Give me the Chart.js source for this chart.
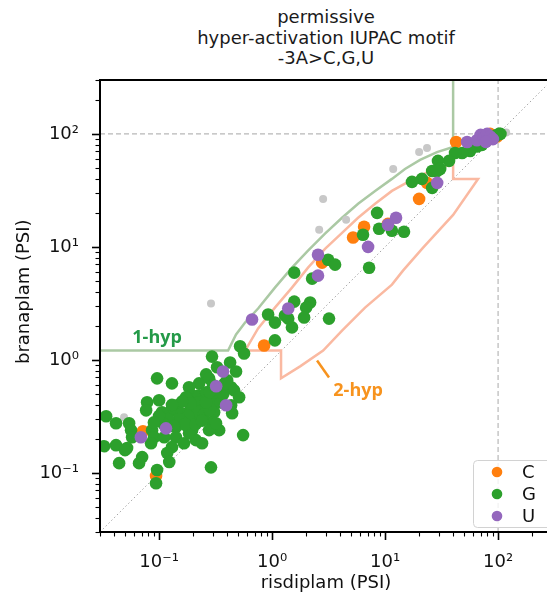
<!DOCTYPE html>
<html>
<head>
<meta charset="utf-8">
<script src="https://cdn.jsdelivr.net/npm/chart.js@4.4.0/dist/chart.umd.min.js"></script>
<style>
    html, body { margin: 0; padding: 0; background: #fff; overflow: hidden; }
    #frame { position: relative; width: 547px; height: 594px; overflow: hidden; }
    #title {
        position: absolute; left: 0; top: 7px; width: 652px; text-align: center;
        font: 18px "DejaVu Sans"; line-height: 20.5px; color: #1a1a1a;
    }
    canvas { position: absolute; left: 0; top: 0; }
</style>
</head>
<body>
<div id="frame">
    <div id="title">permissive<br>hyper-activation IUPAC motif<br>-3A&gt;C,G,U</div>
    <canvas id="chart" width="600" height="594"></canvas>
</div>
<script>
// not significant (grey)
const greyX = [2.83, 2.61, 4.52, 11.8, 20, 23.5, 118, 0.288, 0.049];
const greyY = [26.6, 14.2, 17.4, 49, 69, 75, 103, 3.15, 0.311];

// C
const cX = [42.5, 20, 6.52, 5.21, 10.6, 23.5, 2.77, 0.85, 0.072, 0.094, 98, 85];
const cY = [84.8, 26.6, 15.1, 12.1, 16, 36.9, 7.26, 1.34, 0.234, 0.094, 95, 100];

// G
const gX = [102, 94, 81.6, 65.2, 56.5, 48, 41.6, 36.8, 29.4, 30.7, 26.1, 28.8, 21.2, 17.3, 26.1,
    8.5, 8.85, 11.5, 14.7, 6.38, 7.22, 3.13, 3.61, 1.57, 2.26, 1.57, 2.17, 2.0, 1.92, 1.30, 1.39,
    0.922, 1.06, 1.50, 3.19, 1.06, 0.521, 0.565, 0.425, 105, 96, 72,
    0.294, 0.326, 0.48, 0.261, 0.096, 0.130, 0.226, 0.277, 0.40, 0.434, 0.461, 0.511, 0.184, 0.196,
    0.226, 0.261, 0.173, 0.0783, 0.1, 0.144, 0.128, 0.0768, 0.106, 0.16, 0.192, 0.226, 0.277, 0.34,
    0.261, 0.307, 0.24, 0.294, 0.34, 0.443, 0.434, 0.034, 0.0416, 0.0543, 0.0565, 0.0577, 0.0867,
    0.0903, 0.0849, 0.111, 0.141, 0.173, 0.141, 0.166, 0.130, 0.196, 0.212, 0.184, 0.24, 0.277,
    0.319, 0.118, 0.123, 0.0708, 0.0665, 0.0443, 0.0521, 0.0416, 0.0326, 0.554, 0.288, 0.096, 0.094,
    0.177, 0.05,
    0.2, 0.22, 0.18, 0.25, 0.15, 0.17, 0.21, 0.24, 0.19, 0.16, 0.13, 0.12, 0.135, 0.11, 0.1, 0.09,
    0.28, 0.3, 0.26, 0.35, 0.37, 0.32, 0.28, 0.3, 0.38];
const gY = [100, 94.8, 89.2, 77.3, 70.6, 67.8, 67.8, 57.7, 57.7, 49, 47, 47, 40, 37.6, 33.3,
    20, 14.5, 13.9, 13.6, 12.8, 6.55, 7.71, 6.97, 5.92, 5.24, 3.28, 3.22, 2.9, 2.37, 2.47, 2.32,
    2.52, 2.14, 1.94, 2.32, 1.49, 1.32, 1.14, 0.95, 100, 97, 80,
    1.07, 0.86, 0.79, 0.745, 0.687, 0.62, 0.62, 0.687, 0.66, 0.572, 0.538, 0.467, 0.572, 0.486,
    0.486, 0.516, 0.467, 0.422, 0.44, 0.397, 0.358, 0.358, 0.344, 0.337, 0.381, 0.422, 0.44, 0.467,
    0.358, 0.344, 0.311, 0.281, 0.239, 0.337, 0.397, 0.317, 0.275, 0.275, 0.239, 0.207, 0.239,
    0.207, 0.183, 0.207, 0.254, 0.264, 0.207, 0.183, 0.169, 0.239, 0.195, 0.224, 0.183, 0.239,
    0.275, 0.150, 0.125, 0.138, 0.122, 0.122, 0.166, 0.176, 0.172, 0.216, 0.112, 0.106, 0.081,
    0.292, 0.159,
    0.3, 0.35, 0.32, 0.33, 0.3, 0.27, 0.27, 0.29, 0.41, 0.43, 0.4, 0.3, 0.26, 0.27, 0.32, 0.28,
    0.36, 0.4, 0.42, 0.42, 0.5, 0.55, 0.52, 0.6, 0.62];

// U
const uX = [53.2, 28.9, 12.5, 10.6, 7.07, 2.55, 2.55, 1.39, 0.665, 0.368, 0.32, 0.392, 0.115, 0.069,
    65, 70, 75, 80, 85, 90, 78];
const uY = [84.8, 36.9, 18.1, 15.7, 10, 8.53, 5.57, 2.85, 2.28, 0.79, 0.584, 0.397, 0.248, 0.207,
    88, 98, 92, 100, 95, 90, 85];

// 1-hyp boundary
const hyp1X = [0.03, 0.408, 0.48, 0.577, 0.752, 1.06, 1.50, 2.08, 2.94, 4.16, 5.77, 8.16, 11.5, 15.0, 20.4, 28.8, 40, 40];
const hyp1Y = [1.21, 1.21, 1.68, 2.14, 2.85, 4.36, 6.55, 9.25, 13.1, 18.1, 24.1, 31.3, 40, 49, 58.9, 69, 76.5, 300];

// 2-hyp boundary (closed)
const hyp2X = [0.577, 0.752, 1.06, 1.50, 2.08, 2.94, 4.16, 5.77, 8.16, 11.5, 16.6, 25, 40, 40, 66.5,
    40, 21.7, 14.4, 11.5, 6.65, 4.16, 2.83, 1.77, 1.2, 1.2, 0.577];
const hyp2Y = [1.21, 1.9, 2.9, 4.36, 6.55, 9.6, 13.3, 18.1, 24.1, 31.3, 38.4, 47.1, 54.2, 40, 40,
    19.2, 9.84, 6.17, 4.64, 2.9, 1.82, 1.21, 0.877, 0.687, 1.21, 1.21];

const majorTicks = [0.1, 1, 10, 100];
const tickText = { 0.1: '10\u207B\u00B9', 1: '10\u2070', 10: '10\u00B9', 100: '10\u00B2' };

const legendItems = ['C', 'G', 'U'];
const legendColors = ['#ff7f0e', '#2ca02c', '#9467bd'];

const pts = (xs, ys) => xs.map((v, i) => ({ x: v, y: ys[i] }));

function scatterSet(xs, ys, color, r, order) {
    return { data: pts(xs, ys), backgroundColor: color, borderWidth: 0, pointRadius: r, order: order, clip: 0 };
}
function lineSet(xs, ys, color, width, dash, order) {
    return {
        data: pts(xs, ys), showLine: true, pointRadius: 0, borderColor: color, borderWidth: width,
        borderDash: dash, fill: false, tension: 0, order: order, clip: 0
    };
}

const decorations = {
    id: 'decorations',
    afterDraw(chart) {
        const { ctx, chartArea: a, scales: { x, y } } = chart;
        ctx.save();

        // minor / major ticks
        ctx.strokeStyle = '#000';
        for (let e = -2; e <= 2; e++) {
            for (let k = 1; k <= 9; k++) {
                const v = k * Math.pow(10, e);
                const len = k === 1 ? 8 : 4.5;
                ctx.lineWidth = k === 1 ? 1.6 : 1.1;
                if (v >= x.min && v <= x.max) {
                    const px = Math.round(x.getPixelForValue(v)) + 0.5;
                    ctx.beginPath(); ctx.moveTo(px, a.bottom); ctx.lineTo(px, a.bottom + len); ctx.stroke();
                }
                if (v >= y.min && v <= y.max) {
                    const py = Math.round(y.getPixelForValue(v)) + 0.5;
                    ctx.beginPath(); ctx.moveTo(a.left, py); ctx.lineTo(a.left - len, py); ctx.stroke();
                }
            }
        }

        // spines
        ctx.lineWidth = 2;
        ctx.beginPath();
        ctx.moveTo(a.right + 2, a.top); ctx.lineTo(a.left, a.top);
        ctx.lineTo(a.left, a.bottom); ctx.lineTo(a.right + 2, a.bottom);
        ctx.stroke();

        // region labels
        ctx.font = 'bold 18px "Open Sans"';
        ctx.textAlign = 'center';
        ctx.textBaseline = 'middle';
        ctx.fillStyle = '#249a48';
        ctx.fillText('1-hyp', x.getPixelForValue(0.096), y.getPixelForValue(1.58));
        ctx.fillStyle = '#f7931e';
        ctx.fillText('2-hyp', x.getPixelForValue(5.77), y.getPixelForValue(0.527));
        ctx.strokeStyle = '#f7931e';
        ctx.lineWidth = 2.5;
        ctx.beginPath();
        ctx.moveTo(x.getPixelForValue(2.5), y.getPixelForValue(0.99));
        ctx.lineTo(x.getPixelForValue(3.19), y.getPixelForValue(0.70));
        ctx.stroke();

        // legend
        const lx = 473, ly = 460, lw = 78, lh = 67;
        ctx.fillStyle = 'rgba(255,255,255,0.8)';
        ctx.strokeStyle = '#d2d2d2';
        ctx.lineWidth = 1;
        ctx.beginPath();
        ctx.roundRect(lx + 0.5, ly + 0.5, lw, lh, 4);
        ctx.fill(); ctx.stroke();
        ctx.font = '18px "DejaVu Sans"';
        ctx.textAlign = 'left';
        legendItems.forEach((lab, i) => {
            const cy = 472 + i * 22;
            ctx.fillStyle = legendColors[i];
            ctx.beginPath(); ctx.arc(497, cy, 5.3, 0, Math.PI * 2); ctx.fill();
            ctx.fillStyle = '#111';
            ctx.fillText(lab, 522, cy + 1);
        });

        ctx.restore();
    }
};

const axisFont = { family: 'DejaVu Sans', size: 18 };

new Chart(document.getElementById('chart'), {
    type: 'scatter',
    data: {
        datasets: [
            scatterSet(uX, uY, '#9467bd', 6.3, 1),
            scatterSet(gX, gY, '#2ca02c', 6.3, 2),
            scatterSet(cX, cY, '#ff7f0e', 6.3, 3),
            scatterSet(greyX, greyY, '#c8c8c8', 4, 4),
            lineSet(hyp1X, hyp1Y, '#abc9a4', 2.5, [], 5),
            lineSet(hyp2X, hyp2Y, '#fab9a1', 2.5, [], 6),
            lineSet([0.03, 300], [100, 100], '#b8b8b8', 1.2, [5, 3], 7),
            lineSet([100, 100], [0.03, 300], '#b8b8b8', 1.2, [5, 3], 8),
            lineSet([0.03, 300], [0.03, 300], '#a5a5a5', 1, [1.5, 2.5], 9)
        ]
    },
    options: {
        responsive: false,
        animation: false,
        layout: { padding: { top: 80, right: 48, left: 0, bottom: 0 } },
        plugins: { legend: { display: false }, tooltip: { enabled: false } },
        scales: {
            x: {
                type: 'logarithmic', min: 0.03, max: 300, position: 'bottom',
                afterFit: s => { s.height = 62; },
                afterBuildTicks: s => { s.ticks = majorTicks.map(v => ({ value: v })); },
                ticks: { callback: v => tickText[v] || '', font: axisFont, color: '#111', padding: 20, maxRotation: 0, autoSkip: false },
                grid: { display: false, drawTicks: false },
                border: { display: false },
                title: { display: true, text: 'risdiplam (PSI)', font: axisFont, color: '#111', padding: { top: 0, bottom: 0 } }
            },
            y: {
                type: 'logarithmic', min: 0.03, max: 300, position: 'left',
                afterFit: s => { s.width = 100; },
                afterBuildTicks: s => { s.ticks = majorTicks.map(v => ({ value: v })); },
                ticks: { callback: v => tickText[v] || '', font: axisFont, color: '#111', padding: 21, autoSkip: false },
                grid: { display: false, drawTicks: false },
                border: { display: false },
                title: {
                    display: true, text: '\u00A0\u00A0\u00A0\u00A0\u00A0branaplam (PSI)', font: axisFont, color: '#111',
                    padding: { top: 14, bottom: 0 }
                }
            }
        }
    },
    plugins: [decorations]
});
</script>
</body>
</html>
